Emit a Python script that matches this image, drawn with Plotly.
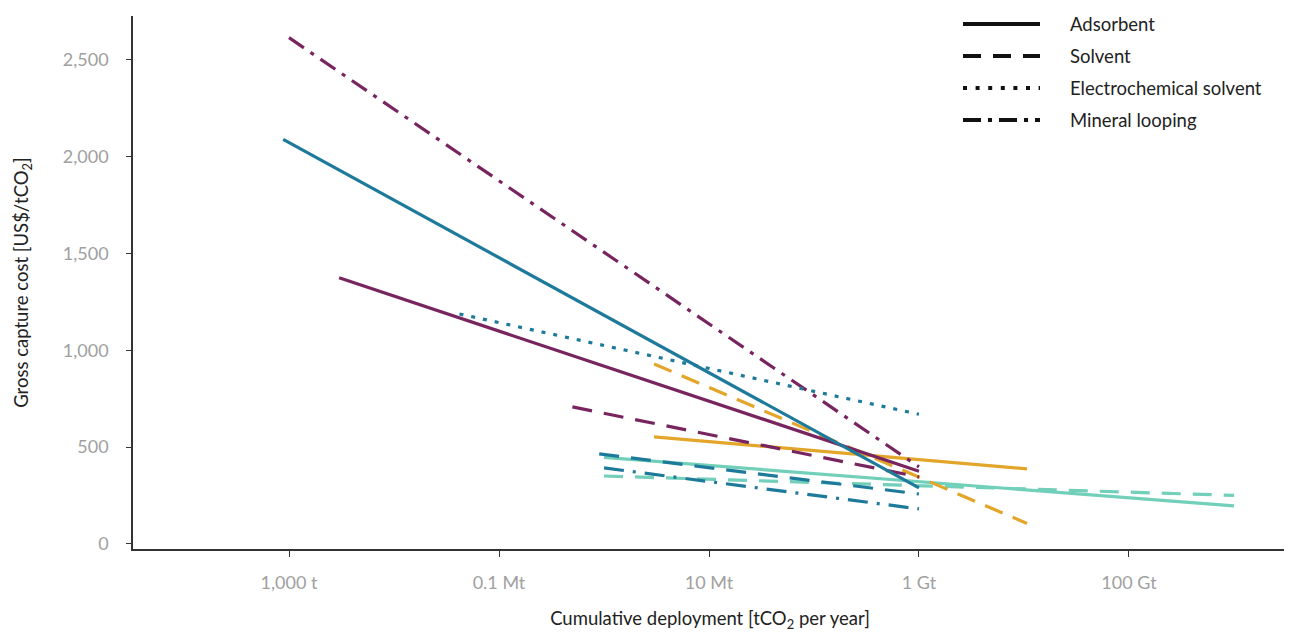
import plotly.graph_objects as go

# ---- data ----
tech_legend = ["Adsorbent", "Solvent", "Electrochemical solvent", "Mineral looping"]
legend_dash = ["solid", "18px,12px", "4px,8.6px", "18px,7px,4px,7px"]

series_name = [
    "Mint adsorbent", "Mint solvent", "Orange adsorbent", "Orange solvent",
    "Purple adsorbent", "Purple solvent", "Purple mineral looping",
    "Blue adsorbent", "Blue solvent", "Blue electrochemical solvent", "Blue mineral looping",
]
series_x = [
    [1e6, 1e12], [1e6, 1e12], [3e6, 1.07e10], [3e6, 1.07e10],
    [3e3, 1e9], [5e5, 1e9], [1e3, 1e9],
    [880, 1e9], [9e5, 1e9], [4.2e4, 1e9], [1e6, 1e9],
]
series_y = [
    [447, 197], [351, 251], [553, 388], [930, 106],
    [1375, 376], [708, 346], [2615, 398],
    [2090, 290], [465, 258], [1188, 670], [393, 181],
]
series_color = [
    "#72CFB9", "#72CFB9", "#E3A52A", "#E3A52A",
    "#78245F", "#78245F", "#78245F",
    "#1E7A9A", "#1E7A9A", "#1E7A9A", "#1E7A9A",
]
series_dash = [
    "solid", "19px,12px", "solid", "19px,11px",
    "solid", "20px,12px", "18px,8px,4px,8px",
    "solid", "20px,12px", "4px,8px", "20px,9px,3px,9px",
]

x_tickvals = [1e3, 1e5, 1e7, 1e9, 1e11]
x_ticktext = ["1,000 t", "0.1 Mt", "10 Mt", "1 Gt", "100 Gt"]
y_tickvals = [0, 500, 1000, 1500, 2000, 2500]

FONT = "Lato, 'Open Sans', sans-serif"
TICK_COL = "#A0A0A0"
AX_COL = "#333333"

# page body has an 8px margin: figure is drawn 8px in from the window corner
FIG_W, FIG_H = 1284, 624
L, R, T, B = 125, 1279, 8, 541
W, H = R - L, B - T

fig = go.Figure()
for name, xs, ys, c, d in zip(series_name, series_x, series_y, series_color, series_dash):
    fig.add_trace(go.Scatter(
        x=xs, y=ys, mode="lines", name=name, showlegend=False,
        line=dict(color=c, width=3.2, dash=d),
        hoverinfo="name+x+y",
    ))

# manual legend (long line samples)
rows_px = [16, 48, 80, 112]
for lab, d, ypx in zip(tech_legend, legend_dash, rows_px):
    yp = (B - ypx) / H
    fig.add_shape(type="line", xref="paper", yref="paper",
                  x0=(955 - L) / W, x1=(1032 - L) / W, y0=yp, y1=yp,
                  line=dict(color="#111111", width=4, dash=d))
    fig.add_annotation(x=(1060 - L) / W, y=yp, xref="paper", yref="paper",
                       text=lab, showarrow=False, xanchor="left", yanchor="middle",
                       font=dict(family=FONT, size=18.5, color="#222222"))

fig.update_layout(
    width=FIG_W, height=FIG_H,
    margin=dict(l=L, r=FIG_W - R, t=T, b=FIG_H - B),
    paper_bgcolor="white", plot_bgcolor="white",
    font=dict(family=FONT, size=18, color="#222222"),
)
fig.update_xaxes(
    type="log", range=[1.514, 12.505],
    tickvals=x_tickvals, ticktext=x_ticktext,
    ticks="outside", ticklen=6, tickwidth=1.2, tickcolor=AX_COL,
    tickfont=dict(family=FONT, size=18, color=TICK_COL),
    ticklabelstandoff=11,
    showline=True, linecolor=AX_COL, linewidth=1.5,
    showgrid=False, zeroline=False,
    title=dict(text="Cumulative deployment [tCO<sub>2</sub> per year]",
               font=dict(family=FONT, size=18.5, color="#222222"), standoff=20),
)
fig.update_yaxes(
    range=[-26, 2727],
    tickvals=y_tickvals, tickformat=",",
    ticks="outside", ticklen=5, tickwidth=1.2, tickcolor=AX_COL,
    tickfont=dict(family=FONT, size=18, color=TICK_COL),
    ticklabelstandoff=14,
    showline=True, linecolor=AX_COL, linewidth=1.5,
    showgrid=False, zeroline=False,
    title=dict(text="Gross capture cost [US$/tCO<sub>2</sub>]",
               font=dict(family=FONT, size=18.5, color="#222222"), standoff=29),
)

fig.write_html("out.html")
